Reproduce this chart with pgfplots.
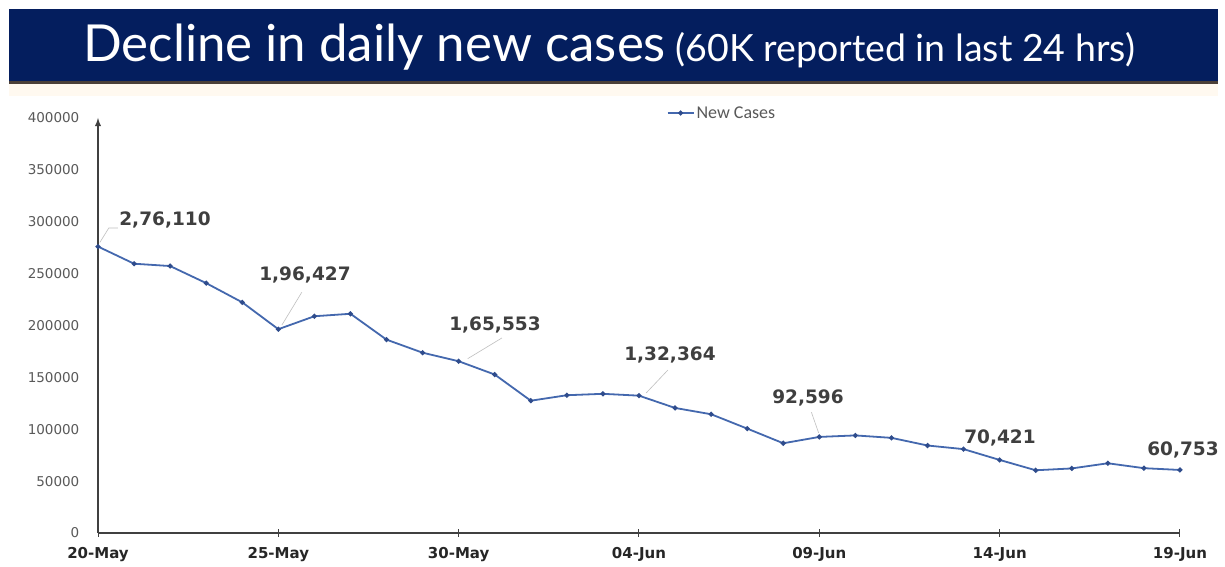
\documentclass[border=0pt]{standalone}
\usepackage{pgfplots}
\pgfplotsset{compat=1.18}
\usepackage{fontspec}
\setmainfont{DejaVu Sans}
\newfontfamily\titlefont{Lato}
\newfontfamily\dejavu{DejaVu Sans}
\newfontfamily\carlito{Carlito}
\definecolor{navy}{HTML}{041E5E}
\definecolor{shadow}{HTML}{4B4038}
\definecolor{cream}{HTML}{FFF9F0}
\definecolor{linec}{HTML}{4468AE}
\definecolor{markc}{HTML}{2F4C8C}
\definecolor{axisc}{HTML}{404040}
\definecolor{labc}{HTML}{3F3F3F}
\definecolor{tickc}{HTML}{595959}
\pgfplotstableread{
x y
0 276110
1 259551
2 257299
3 240842
4 222315
5 196427
6 208921
7 211298
8 186364
9 173790
10 165553
11 152734
12 127510
13 132788
14 134154
15 132364
16 120529
17 114460
18 100636
19 86498
20 92596
21 94052
22 91702
23 84332
24 80834
25 70421
26 60471
27 62224
28 67208
29 62480
30 60753
}\cases
\begin{document}
\begin{tikzpicture}[x=1pt,y=1pt]
\useasboundingbox (0,0) rectangle (1225,567);
\fill[white] (0,0) rectangle (1225,567);
\fill[cream] (9,471) rectangle (1218,483);
\fill[navy] (9,486) rectangle (1218,558);
\fill[shadow] (9,483) rectangle (1218,486);
\node[anchor=base west, inner sep=0pt, text=white] at (83,505)
  {\titlefont\fontsize{51}{60}\selectfont Decline in daily new cases\fontsize{37.5}{44}\selectfont\ (60K reported in last 24 hrs)};
\begin{axis}[
  at={(98pt,34pt)}, anchor=south west,
  scale only axis, width=1082pt, height=415pt,
  xmin=0, xmax=30, ymin=0, ymax=400000,
  clip=false,
  axis x line=bottom, axis y line=left,
  x axis line style={-, axisc, line width=1.8pt},
  y axis line style={-latex, axisc, line width=1.8pt},
  xtick={0,5,10,15,20,25,30},
  xticklabels={20-May,25-May,30-May,04-Jun,09-Jun,14-Jun,19-Jun},
  ytick={0,50000,100000,150000,200000,250000,300000,350000,400000},
  scaled y ticks=false,
  /pgf/number format/.cd, fixed, set thousands separator={}, assume math mode=true, /pgfplots/.cd,
  ytick style={draw=none},
  xtick style={axisc, line width=1pt},
  tick align=center, major tick length=7pt,
  yticklabel style={anchor=east, inner sep=0pt, xshift=-15pt, font=\dejavu\fontsize{13.5}{15}\selectfont, text=tickc},
  xticklabel style={anchor=north, inner sep=0pt, yshift=-11pt, font=\dejavu\bfseries\fontsize{15}{17}\selectfont, text=black!85},
  legend style={at={(axis cs:17.3,404800)}, anchor=center, draw=none, fill=none,
    font=\carlito\fontsize{18}{20}\selectfont, text=tickc, inner sep=0pt},
  legend image code/.code={\draw[mark repeat=2,mark phase=2,#1] plot coordinates {(0pt,0pt) (13pt,0pt) (26pt,0pt)};},
]
\addplot[linec, line width=1.8pt, mark=*, mark size=1.5pt, mark options={fill=markc, draw=markc}] table[x=x,y=y] {\cases};
\addlegendentry{New Cases}
\begin{scope}[every node/.style={font=\dejavu\bfseries\fontsize{18.5}{20}\selectfont, text=labc, inner sep=0pt}]
\node at (axis cs:1.858,301688) {2,76,110};
\node at (axis cs:5.739,248676) {1,96,427};
\node at (axis cs:11.007,200483) {1,65,553};
\node at (axis cs:15.859,171567) {1,32,364};
\node at (axis cs:19.686,130121) {92,596};
\node at (axis cs:25.009,91567) {70,421};
\node at (axis cs:30.083,80000) {60,753};
\end{scope}
\draw[gray!50, line width=0.6pt] (axis cs:0.05,280000) -- (axis cs:0.3,294000) -- (axis cs:0.55,294000);
\draw[gray!50, line width=0.6pt] (axis cs:5.1,200500) -- (axis cs:5.65,232000);
\draw[gray!50, line width=0.6pt] (axis cs:10.25,168000) -- (axis cs:11.2,188000);
\draw[gray!50, line width=0.6pt] (axis cs:15.2,135000) -- (axis cs:15.8,157000);
\draw[gray!50, line width=0.6pt] (axis cs:19.98,96500) -- (axis cs:19.78,116500);
\end{axis}
\end{tikzpicture}
\end{document}
